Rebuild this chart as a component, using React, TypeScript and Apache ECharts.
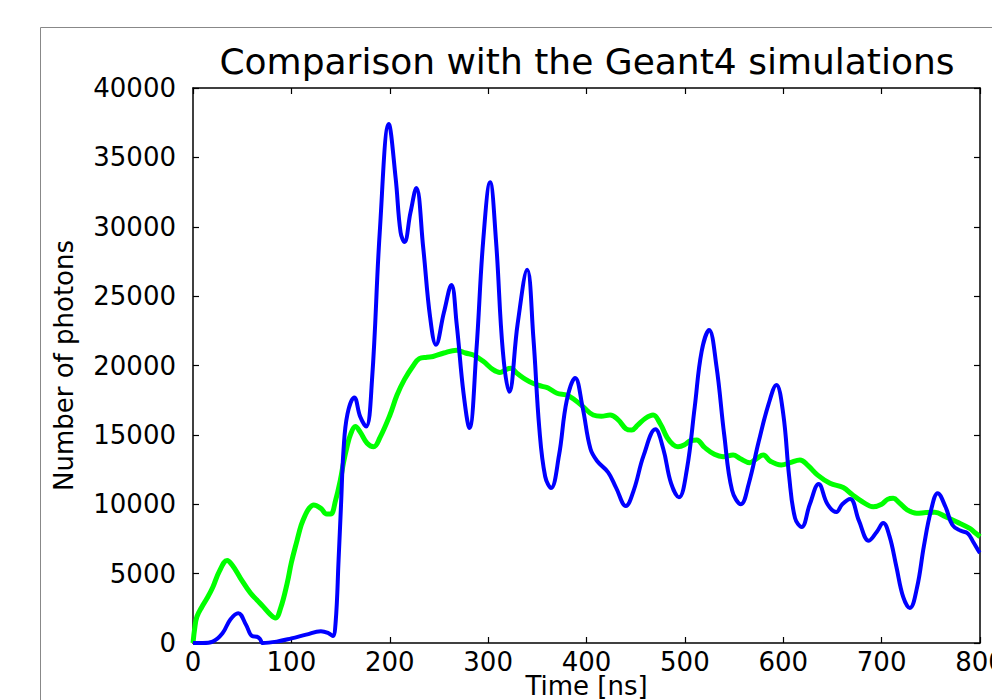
import React, { useEffect, useRef } from "react";
import * as echarts from "echarts";

const titleText = "Comparison with the Geant4 simulations";
const xAxisName = "Time [ns]";
const yAxisName = "Number of photons";

// Geant4 simulation (green) — [time ns, photons]
const simulationData: [number, number][] = [
  [0, 0], [2, 1200], [4, 1900], [9, 2600], [14.4, 3240], [20, 4000], [27, 5200], [34.7, 5950],
  [40, 5600], [48, 4700], [58.4, 3600], [65, 3100], [71.6, 2600], [78, 2100], [83.8, 1800],
  [89, 2500], [95.7, 4300], [100, 5800], [105.8, 7400], [110, 8500], [114, 9200], [118, 9700],
  [122.7, 9950], [130, 9700], [136, 9300], [140, 9300], [145, 10300], [149.8, 11750], [153, 13000],
  [156.6, 14150], [160, 15000], [165, 15600], [170, 15200], [177, 14400], [183.6, 14150],
  [190, 14800], [200, 16400], [207.4, 17870], [215, 19000], [224, 20000], [230, 20500],
  [237.8, 20600], [244, 20650], [255, 20900], [268, 21100], [277, 20900], [285, 20750],
  [295, 20300], [305, 19700], [312, 19500], [318, 19700], [322.5, 19800], [330, 19400],
  [338, 19000], [346, 18700], [355, 18500], [361, 18380], [370, 18000], [380, 17870],
  [388.5, 17500], [397, 17000], [406.8, 16430], [415, 16350], [424, 16430], [432, 16100],
  [440, 15450], [446, 15350], [452, 15700], [460, 16200], [467.7, 16430], [475, 15800],
  [482, 14800], [488, 14300], [493, 14150], [500, 14300], [506, 14600], [512, 14630],
  [520, 14100], [530, 13600], [539, 13430], [549, 13550], [556, 13300], [566, 13000],
  [573, 13300], [579.7, 13550], [587, 13100], [598, 12830], [607, 13000], [617, 13190],
  [625, 12800], [635, 12100], [647.5, 11510], [661, 11200], [670, 10700], [680, 10200],
  [691.5, 9820], [700, 10000], [706, 10350], [711.8, 10430], [718, 10100], [726, 9600],
  [735.5, 9350], [745, 9400], [754, 9420], [765, 9100], [776, 8740], [789.6, 8260],
  [795, 7950], [800, 7660],
];

// Measurement (blue) — [time ns, photons]
const measuredData: [number, number][] = [
  [0, 0], [10, 0], [20, 100], [30, 700], [38, 1700], [46, 2150], [54, 1300], [60, 500],
  [65, 450], [68, 300], [71, 0], [85, 100], [100, 330], [115, 600], [130, 850], [138, 700],
  [142, 500], [145, 1500], [148, 6000], [150.5, 10000], [153, 13900], [157, 16500],
  [164, 17700], [170, 16300], [176, 15600], [182, 19000], [190, 29800], [199, 37400],
  [206, 33500], [211, 29600], [215, 28900], [221, 31000], [227, 32800], [234, 28500], [241, 23500],
  [247, 21500], [255, 23800], [262.7, 25800], [268, 23000], [275, 18000], [281, 15500],
  [288, 21000], [295, 29000], [302, 33200], [308, 29000], [315, 21000], [321.5, 18100],
  [330, 23000], [339.7, 26900], [346, 22000], [352, 15500], [358, 12000], [364, 11170],
  [372, 13500], [380, 17500], [388.5, 19100], [396, 17000], [404, 14000], [411, 13100],
  [422, 12300], [430, 11200], [440, 9870], [448, 11000], [458, 13500], [470, 15400],
  [478, 14000], [486, 11500], [494, 10500], [502, 12500], [510, 17000], [517, 21000],
  [524.6, 22550], [532, 20000], [540, 15000], [548, 11000], [557, 10000], [565, 11500],
  [575, 14500], [585, 17200], [593, 18600], [600, 16500], [606, 12000], [612, 9000],
  [618.7, 8360], [627, 10000], [636, 11460], [645, 10000], [654, 9440], [660, 10000],
  [668, 10380], [677, 8800], [687, 7370], [695, 8000], [701.6, 8650], [708, 7700],
  [715, 5500], [722, 3300], [728.7, 2520], [736, 4000], [743, 7000], [750, 9500],
  [757, 10800], [765, 9800], [772, 8500], [780, 8100], [787.6, 7900], [793, 7300],
  [799, 6580], [800, 6500],
];

const FONT = "DejaVu Sans";

export default function App() {
  const ref = useRef<HTMLDivElement>(null);
  useEffect(() => {
    if (!ref.current) return;
    const chart = echarts.init(ref.current, null, { renderer: "svg" });
    const axisLine = () => ({ show: true, onZero: false, lineStyle: { color: "#000", width: 1.5 } });
    const axisTick = () => ({ show: true, inside: true, length: 6, lineStyle: { color: "#000", width: 1.2 } });
    const plain = (v: number) => String(v);
    chart.setOption({
      animation: false,
      backgroundColor: "#fff",
      graphic: [
        {
          type: "rect",
          shape: { x: 40.5, y: 27.5, width: 1000, height: 720 },
          style: { fill: "none", stroke: "#888", lineWidth: 1 },
          silent: true,
          z: -10,
        },
      ],
      title: {
        text: titleText,
        left: 582,
        textAlign: "center",
        top: 38,
        textStyle: { fontFamily: FONT, fontSize: 36, fontWeight: "normal", color: "#000" },
      },
      grid: {
        left: 193,
        top: 88,
        width: 787,
        height: 555,
        containLabel: false,
        outerBoundsMode: "none",
      },
      xAxis: [
        {
          type: "value",
          min: 0,
          max: 800,
          interval: 100,
          position: "bottom",
          name: xAxisName,
          nameLocation: "middle",
          nameGap: 30,
          nameMoveOverlap: false,
          nameTextStyle: { fontFamily: FONT, fontSize: 26, color: "#000" },
          axisLine: axisLine(),
          axisTick: axisTick(),
          axisLabel: { fontFamily: FONT, fontSize: 26, color: "#000", margin: 6, formatter: plain },
          splitLine: { show: false },
        },
        {
          type: "value",
          min: 0,
          max: 800,
          interval: 100,
          position: "top",
          axisLine: axisLine(),
          axisTick: axisTick(),
          axisLabel: { show: false },
          splitLine: { show: false },
        },
      ],
      yAxis: [
        {
          type: "value",
          min: 0,
          max: 40000,
          interval: 5000,
          position: "left",
          name: yAxisName,
          nameLocation: "middle",
          nameGap: 116,
          nameMoveOverlap: false,
          nameTextStyle: { fontFamily: FONT, fontSize: 26, color: "#000" },
          axisLine: axisLine(),
          axisTick: axisTick(),
          axisLabel: { fontFamily: FONT, fontSize: 26, color: "#000", margin: 17, formatter: plain },
          splitLine: { show: false },
        },
        {
          type: "value",
          min: 0,
          max: 40000,
          interval: 5000,
          position: "right",
          axisLine: axisLine(),
          axisTick: axisTick(),
          axisLabel: { show: false },
          splitLine: { show: false },
        },
      ],
      series: [
        {
          type: "line",
          name: "Geant4",
          data: simulationData,
          smooth: 0.4,
          showSymbol: false,
          symbol: "none",
          lineStyle: { color: "#00ff00", width: 5 },
          z: 2,
        },
        {
          type: "line",
          name: "Measured",
          data: measuredData,
          smooth: 0.4,
          showSymbol: false,
          symbol: "none",
          lineStyle: { color: "#0000ff", width: 4 },
          z: 3,
        },
      ],
    });
    return () => chart.dispose();
  }, []);
  return (
    <div
      ref={ref}
      style={{ position: "fixed", left: 0, top: 0, width: 992, height: 700 }}
    />
  );
}
